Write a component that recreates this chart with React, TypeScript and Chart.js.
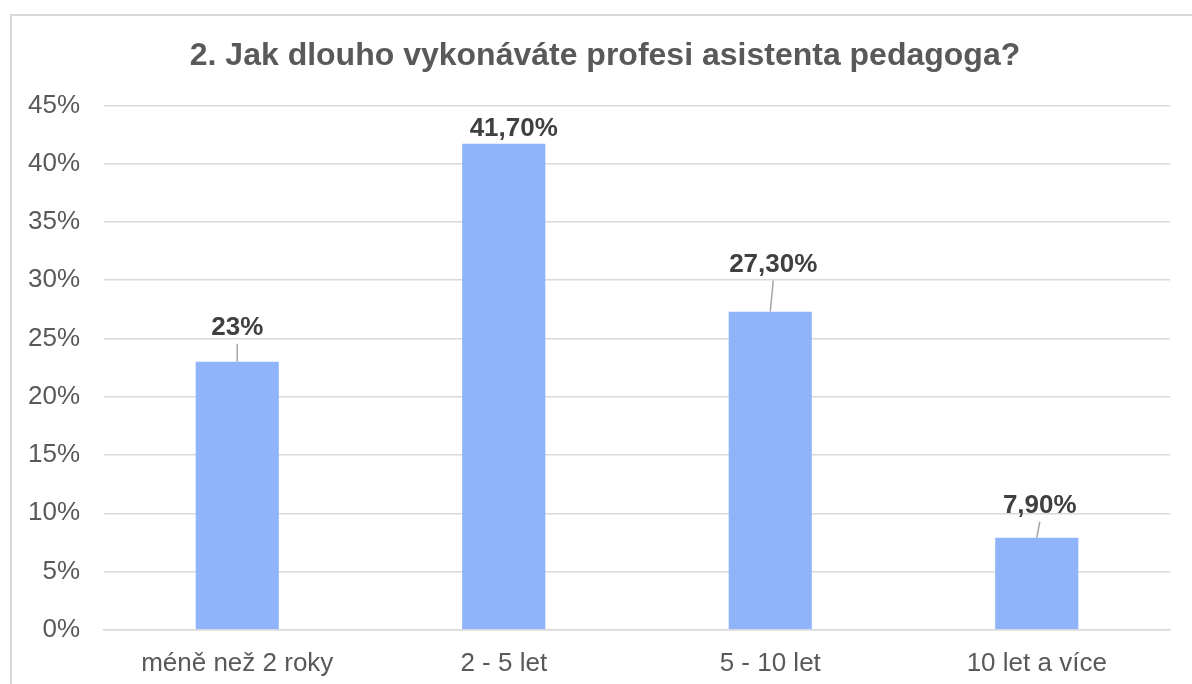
import React, { useEffect, useRef } from "react";
import { Chart, registerables } from "chart.js";

Chart.register(...registerables);

const titleText = "2. Jak dlouho vykonáváte profesi asistenta pedagoga?";
const categories = ["méně než 2 roky", "2 - 5 let", "5 - 10 let", "10 let a více"];
const values = [23, 41.7, 27.3, 7.9];
const valueLabels = ["23%", "41,70%", "27,30%", "7,90%"];
const yMax = 45;
const yStep = 5;

// label placement (style): horizontal shift and rise of baseline above bar top
const labelShiftX = [0, 10, 3, 3];
const labelRise = [27, 8, 40, 25];
const TITLE_SHIFT = 14;

const FONT = "'Liberation Sans', Arial, Helvetica, sans-serif";

const titleShiftPlugin = {
  id: "titleShift",
  afterLayout(chart: any) {
    const t = chart.titleBlock;
    if (t) {
      t.left += TITLE_SHIFT;
      t.right += TITLE_SHIFT;
    }
  },
};

const dataLabelPlugin = {
  id: "dataLabelsCustom",
  afterDatasetsDraw(chart: any) {
    const ctx = chart.ctx;
    const meta = chart.getDatasetMeta(0);
    ctx.save();
    meta.data.forEach((el: any, i: number) => {
      const x = el.x;
      const y = el.y;
      const lx = x + labelShiftX[i];
      const ly = y - labelRise[i];
      if (labelRise[i] > 15) {
        ctx.beginPath();
        ctx.strokeStyle = "#a6a6a6";
        ctx.lineWidth = 1.5;
        ctx.moveTo(lx, ly + 9);
        ctx.lineTo(x, y);
        ctx.stroke();
      }
      ctx.font = `bold 26px ${FONT}`;
      ctx.fillStyle = "#404040";
      ctx.textAlign = "center";
      ctx.textBaseline = "alphabetic";
      ctx.fillText(valueLabels[i], lx, ly);
    });
    ctx.restore();
  },
};

function ChartBox() {
  const ref = useRef<HTMLCanvasElement | null>(null);
  useEffect(() => {
    if (!ref.current) return;
    const chart = new Chart(ref.current, {
      type: "bar",
      data: {
        labels: categories,
        datasets: [
          {
            data: values,
            backgroundColor: "#8fb4fa",
            borderWidth: 0,
            categoryPercentage: 1,
            barPercentage: 0.312,
          },
        ],
      },
      options: {
        responsive: false,
        animation: false,
        layout: { padding: { left: 0, right: 28, top: 0, bottom: 9 } },
        plugins: {
          legend: { display: false },
          tooltip: { enabled: false },
          title: {
            display: true,
            text: titleText,
            color: "#595959",
            font: { family: FONT, size: 32, weight: "bold" },
            padding: { top: 21, bottom: 30 },
          },
        },
        scales: {
          x: {
            grid: { display: false, drawTicks: false },
            border: { display: true, color: "#d9d9d9", width: 1.5 },
            ticks: {
              color: "#595959",
              font: { family: FONT, size: 26 },
              padding: 18,
              maxRotation: 0,
            },
          },
          y: {
            min: 0,
            max: yMax,
            grid: { color: "#d9d9d9", lineWidth: 1.5, drawTicks: false },
            border: { display: false },
            ticks: {
              stepSize: yStep,
              color: "#595959",
              font: { family: FONT, size: 26 },
              padding: 24,
              callback: (v: any) => `${v}%`,
            },
            afterFit: (scale: any) => {
              scale.width = 92;
            },
          },
        },
      },
      plugins: [titleShiftPlugin, dataLabelPlugin],
    });
    return () => chart.destroy();
  }, []);
  return (
    <canvas
      ref={ref}
      width={1186}
      height={690}
      style={{ display: "block", width: 1186, height: 690 }}
    />
  );
}

export default function App() {
  return (
    <div
      style={{
        position: "fixed",
        inset: 0,
        overflow: "hidden",
        background: "#ffffff",
      }}
    >
      <div
        style={{
          position: "absolute",
          left: 10,
          top: 14,
          width: 1190,
          height: 720,
          border: "2px solid #d9d9d9",
          boxSizing: "border-box",
          background: "#ffffff",
        }}
      >
        <ChartBox />
      </div>
    </div>
  );
}
